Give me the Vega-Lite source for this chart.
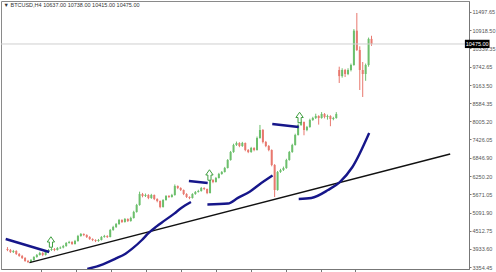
{
  "$schema": "https://vega.github.io/schema/vega-lite/v6.json",
  "width": 468,
  "height": 268,
  "autosize": {"type": "none"},
  "padding": {"left": 1, "top": 1, "right": 27, "bottom": 3},
  "background": "white",
  "view": {"stroke": "#8a8a8a", "strokeWidth": 1},
  "config": {"axis": {"labelOverlap": false}, "axisY": {"labelOverlap": false}},
  "title": {"text": "▼ BTCUSD,H4  10637.00 10738.00 10415.00 10475.00", "anchor": "start", "orient": "top", "offset": -11, "dx": 3, "fontSize": 5.5, "fontWeight": "normal", "color": "#333333", "font": "Liberation Sans", "baseline": "alphabetic"},
  "datasets": {
    "candles": [
      {"i":0,"o":3930,"h":3990,"l":3860,"c":3897},{"i":1,"o":3897,"h":3930,"l":3800,"c":3834},{"i":2,"o":3834,"h":3900,"l":3800,"c":3865},{"i":3,"o":3865,"h":3890,"l":3740,"c":3770},{"i":4,"o":3770,"h":3800,"l":3680,"c":3706},
      {"i":5,"o":3706,"h":3740,"l":3610,"c":3642},{"i":6,"o":3642,"h":3670,"l":3520,"c":3546},{"i":7,"o":3546,"h":3580,"l":3480,"c":3514},{"i":8,"o":3514,"h":3610,"l":3490,"c":3578},{"i":9,"o":3578,"h":3700,"l":3560,"c":3674},
      {"i":10,"o":3674,"h":3770,"l":3650,"c":3738},{"i":11,"o":3738,"h":3840,"l":3720,"c":3802},{"i":12,"o":3802,"h":3830,"l":3700,"c":3738},{"i":13,"o":3738,"h":3870,"l":3720,"c":3834},{"i":14,"o":3834,"h":3930,"l":3810,"c":3897},
      {"i":15,"o":3897,"h":3970,"l":3870,"c":3929},{"i":16,"o":3929,"h":3960,"l":3860,"c":3897},{"i":17,"o":3897,"h":3990,"l":3880,"c":3961},{"i":18,"o":3950,"h":4010,"l":3930,"c":3975},{"i":19,"o":3975,"h":4060,"l":3950,"c":4025},
      {"i":20,"o":4025,"h":4150,"l":4000,"c":4121},{"i":21,"o":4121,"h":4190,"l":4100,"c":4153},{"i":22,"o":4153,"h":4180,"l":4060,"c":4089},{"i":23,"o":4089,"h":4220,"l":4070,"c":4184},{"i":24,"o":4184,"h":4380,"l":4160,"c":4344},
      {"i":25,"o":4344,"h":4440,"l":4320,"c":4408},{"i":26,"o":4408,"h":4430,"l":4340,"c":4376},{"i":27,"o":4376,"h":4400,"l":4280,"c":4312},{"i":28,"o":4312,"h":4340,"l":4220,"c":4248},{"i":29,"o":4248,"h":4270,"l":4180,"c":4216},
      {"i":30,"o":4216,"h":4240,"l":4150,"c":4184},{"i":31,"o":4184,"h":4250,"l":4160,"c":4216},{"i":32,"o":4216,"h":4340,"l":4200,"c":4312},{"i":33,"o":4312,"h":4380,"l":4290,"c":4344},{"i":34,"o":4344,"h":4370,"l":4280,"c":4312},
      {"i":35,"o":4312,"h":4570,"l":4300,"c":4536},{"i":36,"o":4536,"h":4670,"l":4510,"c":4632},{"i":37,"o":4632,"h":4760,"l":4600,"c":4727},{"i":38,"o":4727,"h":4890,"l":4700,"c":4855},{"i":39,"o":4855,"h":4880,"l":4760,"c":4791},
      {"i":40,"o":4791,"h":4920,"l":4770,"c":4887},{"i":41,"o":4887,"h":4910,"l":4790,"c":4823},{"i":42,"o":4823,"h":4960,"l":4800,"c":4919},{"i":43,"o":4919,"h":5150,"l":4900,"c":5111},{"i":44,"o":5111,"h":5370,"l":5090,"c":5334},
      {"i":45,"o":5334,"h":5760,"l":5310,"c":5685},{"i":46,"o":5685,"h":5720,"l":5580,"c":5621},{"i":47,"o":5621,"h":5700,"l":5590,"c":5653},{"i":48,"o":5653,"h":5680,"l":5520,"c":5558},{"i":49,"o":5558,"h":5690,"l":5530,"c":5653},
      {"i":50,"o":5653,"h":5670,"l":5490,"c":5526},{"i":51,"o":5526,"h":5550,"l":5420,"c":5462},{"i":52,"o":5462,"h":5480,"l":5230,"c":5270},{"i":53,"o":5270,"h":5520,"l":5250,"c":5494},{"i":54,"o":5494,"h":5650,"l":5470,"c":5621},
      {"i":55,"o":5621,"h":5650,"l":5560,"c":5589},{"i":56,"o":5589,"h":5690,"l":5570,"c":5653},{"i":57,"o":5653,"h":5990,"l":5630,"c":5941},{"i":58,"o":5941,"h":5960,"l":5840,"c":5877},{"i":59,"o":5877,"h":5900,"l":5780,"c":5813},
      {"i":60,"o":5813,"h":5830,"l":5650,"c":5685},{"i":61,"o":5685,"h":5710,"l":5560,"c":5589},{"i":62,"o":5589,"h":5610,"l":5520,"c":5558},{"i":63,"o":5558,"h":5710,"l":5540,"c":5685},{"i":64,"o":5685,"h":5780,"l":5660,"c":5749},
      {"i":65,"o":5749,"h":5820,"l":5730,"c":5781},{"i":66,"o":5781,"h":5910,"l":5760,"c":5877},{"i":67,"o":5877,"h":5900,"l":5810,"c":5845},{"i":68,"o":5845,"h":5860,"l":5680,"c":5717},{"i":69,"o":5717,"h":6170,"l":5700,"c":6132},
      {"i":70,"o":6132,"h":6160,"l":6030,"c":6068},{"i":71,"o":6068,"h":6230,"l":6050,"c":6196},{"i":72,"o":6196,"h":6360,"l":6180,"c":6324},{"i":73,"o":6324,"h":6420,"l":6300,"c":6387},{"i":74,"o":6387,"h":6550,"l":6370,"c":6515},
      {"i":75,"o":6515,"h":6800,"l":6500,"c":6771},{"i":76,"o":6771,"h":7060,"l":6750,"c":7026},{"i":77,"o":7026,"h":7290,"l":7000,"c":7250},{"i":78,"o":7250,"h":7360,"l":7220,"c":7314},{"i":79,"o":7314,"h":7340,"l":7180,"c":7218},
      {"i":80,"o":7218,"h":7350,"l":7190,"c":7314},{"i":81,"o":7314,"h":7330,"l":7050,"c":7090},{"i":82,"o":7090,"h":7120,"l":6990,"c":7026},{"i":83,"o":7026,"h":7190,"l":7000,"c":7154},{"i":84,"o":7154,"h":7180,"l":7050,"c":7090},
      {"i":85,"o":7090,"h":7520,"l":7070,"c":7473},{"i":86,"o":7473,"h":7890,"l":7450,"c":7729},{"i":87,"o":7729,"h":7760,"l":7300,"c":7345},{"i":88,"o":7345,"h":7380,"l":7180,"c":7218},{"i":89,"o":7218,"h":7250,"l":7050,"c":7090},
      {"i":90,"o":7090,"h":7110,"l":6570,"c":6611},{"i":91,"o":6611,"h":6640,"l":5589,"c":5813},{"i":92,"o":5813,"h":6420,"l":5790,"c":6387},{"i":93,"o":6387,"h":6490,"l":6360,"c":6451},{"i":94,"o":6451,"h":6560,"l":6420,"c":6515},
      {"i":95,"o":6515,"h":6810,"l":6490,"c":6771},{"i":96,"o":6771,"h":7060,"l":6750,"c":7026},{"i":97,"o":7026,"h":7290,"l":7000,"c":7250},{"i":98,"o":7250,"h":7610,"l":7230,"c":7569},{"i":99,"o":7569,"h":7930,"l":7550,"c":7889},
      {"i":100,"o":7889,"h":8030,"l":7860,"c":7984},{"i":101,"o":7984,"h":8000,"l":7560,"c":7729},{"i":102,"o":7729,"h":7860,"l":7690,"c":7825},{"i":103,"o":7825,"h":8090,"l":7800,"c":8048},{"i":104,"o":8048,"h":8150,"l":8020,"c":8112},
      {"i":105,"o":8112,"h":8250,"l":8080,"c":8176},{"i":106,"o":8176,"h":8200,"l":7900,"c":8112},{"i":107,"o":8112,"h":8300,"l":8090,"c":8240},{"i":108,"o":8240,"h":8270,"l":8100,"c":8144},{"i":109,"o":8144,"h":8220,"l":8060,"c":8176},
      {"i":110,"o":8176,"h":8200,"l":7850,"c":8080},{"i":111,"o":8080,"h":8150,"l":8040,"c":8112},{"i":112,"o":8112,"h":8300,"l":8090,"c":8240},{"i":113,"o":9645,"h":9750,"l":9230,"c":9450},{"i":114,"o":9450,"h":9700,"l":9400,"c":9645},
      {"i":115,"o":9645,"h":9680,"l":9420,"c":9517},{"i":116,"o":9517,"h":9700,"l":9480,"c":9645},{"i":117,"o":9645,"h":9850,"l":9600,"c":9804},{"i":118,"o":9804,"h":10950,"l":9780,"c":10900},{"i":119,"o":10900,"h":11465,"l":10250,"c":10283},
      {"i":120,"o":10283,"h":10400,"l":9006,"c":9645},{"i":121,"o":9645,"h":9900,"l":8783,"c":9517},{"i":122,"o":9517,"h":9850,"l":9300,"c":9804},{"i":123,"o":9804,"h":10680,"l":9750,"c":10637},{"i":124,"o":10637,"h":10738,"l":10415,"c":10475}
    ],
    "lines": [
      {"s":"trend","u":7.5,"p":3492},{"s":"trend","u":150.8,"p":6962},
      {"s":"b1","u":-0.6,"p":4248},{"s":"b1","u":14.2,"p":3834},
      {"s":"b2","u":27.2,"p":3290},{"s":"b2","u":32.5,"p":3440},{"s":"b2","u":36.8,"p":3620},{"s":"b2","u":40.2,"p":3780},{"s":"b2","u":42.5,"p":3940},{"s":"b2","u":45.8,"p":4217},{"s":"b2","u":48.2,"p":4450},{"s":"b2","u":50.8,"p":4650},{"s":"b2","u":52.5,"p":4770},{"s":"b2","u":56.8,"p":5060},{"s":"b2","u":59.2,"p":5238},{"s":"b2","u":62.5,"p":5429},
      {"s":"b3","u":61.8,"p":6100},{"s":"b3","u":68.2,"p":6036},
      {"s":"b4","u":68.1,"p":5350},{"s":"b4","u":75.1,"p":5380},{"s":"b4","u":78.5,"p":5560},{"s":"b4","u":82.5,"p":5760},{"s":"b4","u":85.8,"p":5990},{"s":"b4","u":90.3,"p":6276},
      {"s":"b5","u":90.2,"p":7920},{"s":"b5","u":99.2,"p":7825},
      {"s":"b6","u":99.2,"p":5526},{"s":"b6","u":103.5,"p":5558},{"s":"b6","u":109.2,"p":5813},{"s":"b6","u":113.2,"p":6068},{"s":"b6","u":117.5,"p":6547},{"s":"b6","u":123.2,"p":7633}
    ],
    "arrows": [
      {"u":14.8,"p":4153},{"u":68.8,"p":6292},{"u":99.5,"p":8128}
    ],
    "last": [{"price": 10475}]
  },
  "layer": [
    {
      "data": {"name": "candles"},
      "mark": {"type": "rule", "strokeWidth": 1},
      "encoding": {
        "x": {"field": "i", "type": "quantitative", "title": null,
              "scale": {"domain": [-0.5, 155.5], "nice": false, "zero": false},
              "axis": {"orient": "bottom", "values": [11.5, 23.4, 35.3, 47.2, 59.1, 71.0, 82.9, 94.8, 106.7, 118.4], "tickCount": 30, "labels": false, "grid": false, "tickSize": 3, "tickColor": "#777777", "domainColor": "#777777", "domain": true}},
        "y": {"field": "l", "type": "quantitative", "title": null,
              "scale": {"domain": [3290.6, 11847.8], "nice": false, "zero": false},
              "axis": {"orient": "right", "values": [11497.65, 10918.50, 10339.35, 9742.65, 9163.50, 8584.35, 8005.20, 7426.05, 6846.90, 6250.20, 5671.05, 5091.90, 4512.75, 3933.60, 3354.45], "tickCount": 30, "format": ".2f", "grid": false, "tickSize": 2, "tickColor": "#777777", "domainColor": "#777777", "labelFontSize": 5.5, "labelFont": "Liberation Sans", "labelColor": "#555555", "labelPadding": 1, "labelFlush": false, "labelOverlap": false, "labelBound": false}},
        "y2": {"field": "h"},
        "color": {"condition": {"test": "datum.c >= datum.o", "value": "#6cbf6c"}, "value": "#e8786e"}
      }
    },
    {
      "data": {"name": "candles"},
      "mark": {"type": "bar", "size": 2},
      "encoding": {
        "x": {"field": "i", "type": "quantitative", "title": null},
        "y": {"field": "o", "type": "quantitative", "title": null},
        "y2": {"field": "c"},
        "color": {"condition": {"test": "datum.c >= datum.o", "value": "#6cbf6c"}, "value": "#e8786e"}
      }
    },
    {
      "data": {"name": "last"},
      "mark": {"type": "rule", "color": "#cfcfcf", "strokeWidth": 1},
      "encoding": {"y": {"field": "price", "type": "quantitative", "title": null}}
    },
    {
      "data": {"name": "lines"},
      "transform": [{"filter": "datum.s === 'trend'"}],
      "mark": {"type": "line", "color": "#111111", "strokeWidth": 1.4, "clip": true},
      "encoding": {
        "x": {"field": "u", "type": "quantitative", "title": null},
        "y": {"field": "p", "type": "quantitative", "title": null}
      }
    },
    {
      "data": {"name": "lines"},
      "transform": [{"filter": "datum.s !== 'trend'"}],
      "mark": {"type": "line", "color": "#16168a", "strokeWidth": 2.4, "interpolate": "monotone", "clip": true},
      "encoding": {
        "x": {"field": "u", "type": "quantitative", "title": null},
        "y": {"field": "p", "type": "quantitative", "title": null},
        "detail": {"field": "s"}
      }
    },
    {
      "data": {"name": "arrows"},
      "mark": {"type": "point", "shape": "M-0.3,1L0.3,1L0.3,0L0.7,0L0,-1L-0.7,0L-0.3,0Z", "filled": false, "stroke": "#3f9e3f", "strokeWidth": 1, "fill": "white", "fillOpacity": 1, "size": 110, "opacity": 1},
      "encoding": {
        "x": {"field": "u", "type": "quantitative", "title": null},
        "y": {"field": "p", "type": "quantitative", "title": null}
      }
    },
    {
      "data": {"name": "last"},
      "mark": {"type": "rect", "color": "#000000"},
      "encoding": {
        "x": {"datum": 155.8, "type": "quantitative"},
        "x2": {"datum": 164.2},
        "y": {"datum": 10610, "type": "quantitative"},
        "y2": {"datum": 10345}
      }
    },
    {
      "data": {"name": "last"},
      "mark": {"type": "text", "color": "white", "fontSize": 5.5, "font": "Liberation Sans", "align": "center", "baseline": "middle"},
      "encoding": {
        "x": {"datum": 160, "type": "quantitative"},
        "y": {"field": "price", "type": "quantitative", "title": null},
        "text": {"field": "price", "type": "quantitative", "format": ".2f"}
      }
    }
  ]
}
